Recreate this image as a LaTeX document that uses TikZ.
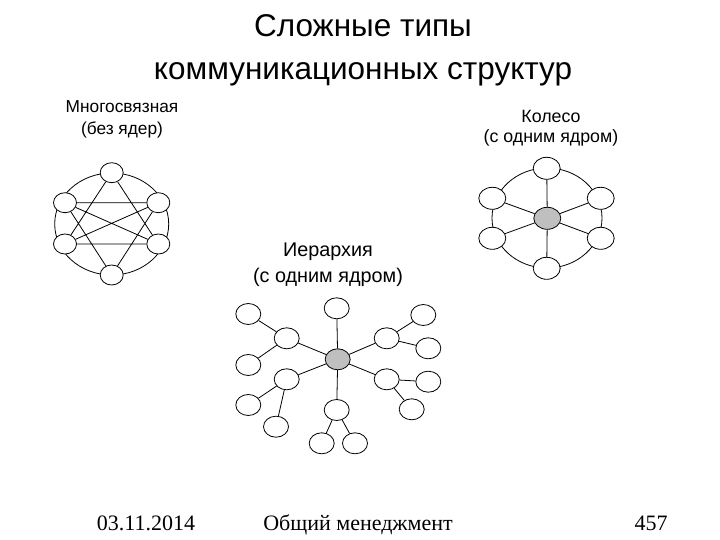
\documentclass[tikz,border=0pt]{standalone}
\usepackage{fontspec}
\setmainfont{Liberation Sans}
\newfontfamily\timesf{Liberation Serif}
\usetikzlibrary{shapes.geometric}
\tikzset{
  x=1pt, y=-1pt,
  nd/.style={ellipse, draw, fill=white, inner sep=0pt, line width=0.8pt},
  ndm/.style={nd, minimum width=23pt, minimum height=20pt},
  ndw/.style={nd, minimum width=27pt, minimum height=22pt},
  ndh/.style={nd, minimum width=25pt, minimum height=21pt},
  core/.style={fill=black!25},
  ln/.style={line width=0.8pt},
  txt/.style={align=center, anchor=base, inner sep=0pt},
  foot/.style={anchor=base, inner sep=0pt, font=\timesf\fontsize{22}{24}\selectfont},
}
\begin{document}
\begin{tikzpicture}
\useasboundingbox (0,0) rectangle (720,540);
% titles (anchor=base is the baseline of the last line)
\node[txt, font=\fontsize{31.5}{43}\selectfont] (title) at (363,80) {Сложные типы\\коммуникационных структур};
\node[txt, font=\fontsize{17.3}{22}\selectfont] (lm) at (122,135) {Многосвязная\\(без ядер)};
\node[txt, font=\fontsize{17.8}{20}\selectfont] (lw) at (551,143) {Колесо\\(с одним ядром)};
\node[txt, font=\fontsize{19.8}{26}\selectfont] (lh) at (328,282) {Иерархия\\(с одним ядром)};
% multi-connected
\draw[ln] (111.7,224) ellipse [x radius=57pt, y radius=51pt];
\node[ndm] (mT) at (111.7,172.7) {};
\node[ndm] (mUL) at (65,202.7) {};
\node[ndm] (mUR) at (158.3,202.7) {};
\node[ndm] (mLL) at (65,244) {};
\node[ndm] (mLR) at (158.3,244) {};
\node[ndm] (mB) at (111.7,275) {};
\draw[ln] (mT) -- (mLL) (mT) -- (mLR) (mUL) -- (mB) (mUR) -- (mB)
  (mUL) -- (mUR) (mLL) -- (mLR) (mUL) -- (mLR) (mLL) -- (mUR);
% wheel
\draw[ln] (547,218) ellipse [x radius=55pt, y radius=50pt];
\node[ndw] (wT) at (546.7,168.3) {};
\node[ndw] (wUL) at (492.3,198.3) {};
\node[ndw] (wUR) at (600.7,198.3) {};
\node[ndw] (wLL) at (492.3,238.3) {};
\node[ndw] (wLR) at (600.7,238.3) {};
\node[ndw] (wB) at (546.7,268.3) {};
\node[ndw, core] (wC) at (547.3,218.3) {};
\foreach \n in {wT,wUL,wUR,wLL,wLR,wB} \draw[ln] (wC) -- (\n);
% hierarchy
\node[ndh, core] (hC) at (337.7,359.3) {};
\node[ndh] (hT) at (336.7,308.3) {};
\node[ndh] (hB) at (336.7,410) {};
\node[ndh] (hB1) at (321.7,443.3) {};
\node[ndh] (hB2) at (355,443.3) {};
\node[ndh] (hUL) at (286.7,338.3) {};
\node[ndh] (hUL1) at (248.3,314) {};
\node[ndh] (hUL2) at (248.3,365) {};
\node[ndh] (hLL) at (286.7,379.3) {};
\node[ndh] (hLL1) at (248.3,405) {};
\node[ndh] (hLL2) at (276,426.7) {};
\node[ndh] (hUR) at (386.7,338.3) {};
\node[ndh] (hUR1) at (423.3,315) {};
\node[ndh] (hUR2) at (428.3,348.3) {};
\node[ndh] (hLR) at (386.7,379.3) {};
\node[ndh] (hLR1) at (428.3,381.7) {};
\node[ndh] (hLR2) at (411.7,409.3) {};
\foreach \n in {hT,hB,hUL,hLL,hUR,hLR} \draw[ln] (hC) -- (\n);
\draw[ln] (hB) -- (hB1) (hB) -- (hB2) (hUL) -- (hUL1) (hUL) -- (hUL2)
  (hLL) -- (hLL1) (hLL) -- (hLL2) (hUR) -- (hUR1) (hUR) -- (hUR2)
  (hLR) -- (hLR1) (hLR) -- (hLR2);
% footer
\node[foot] (date) at (146,530) {03.11.2014};
\node[foot] (course) at (358,530) {Общий менеджмент};
\node[foot] (page) at (651,530) {457};
\end{tikzpicture}
\end{document}
